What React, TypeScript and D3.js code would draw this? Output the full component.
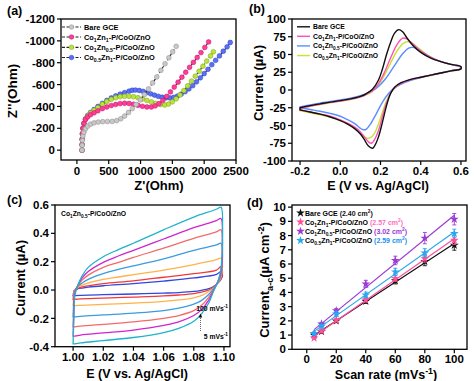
import React from "react";
import * as d3 from "d3";

const FONT = "'Liberation Sans', Arial, Helvetica, sans-serif";

// ---------------- Panel (a) : Nyquist plots  [Z', -Z''] ----------------
const eisLabels = ["Bare GCE", "Co_{1}Zn_{1}-P/CoO/ZnO", "Co_{1}Zn_{0.5}-P/CoO/ZnO", "Co_{0.5}Zn_{1}-P/CoO/ZnO"];
const eisFill = ["#c8c8c8", "#ff3d97", "#b9e43c", "#5b70f4"];
const eisEdge = ["#8a8a8a", "#c3126a", "#7d9e18", "#2b3fc0"];
const eisXTicks = [0, 500, 1000, 1500, 2000, 2500];
const eisYTicks = [0, 200, 400, 600, 800, 1000, 1200];
const eisBare = [[80,0],[82,45],[86,90],[95,130],[110,165],[135,195],[170,220],[215,238],[270,250],[335,257],[405,261],[480,262],[555,263],[625,270],[690,287],[750,312],[810,345],[870,380],[930,418],[995,460],[1060,508],[1125,560],[1190,615],[1255,670],[1320,730],[1385,790],[1445,845],[1505,900],[1560,950]];
const eisCo1Zn1 = [[80,0],[81,50],[83,100],[87,150],[95,200],[110,245],[135,280],[170,305],[215,325],[270,342],[330,360],[400,380],[470,395],[540,408],[610,418],[680,426],[750,429],[820,427],[890,420],[960,410],[1030,401],[1100,395],[1170,395],[1230,405],[1290,425],[1350,455],[1410,492],[1470,533],[1530,577],[1590,622],[1650,668],[1710,713],[1770,758],[1830,803],[1890,848],[1950,893],[2010,940],[2070,990]];
const eisCo1Zn05 = [[80,0],[81,50],[83,100],[87,150],[95,200],[110,245],[135,285],[170,315],[215,340],[270,365],[330,390],[400,420],[470,445],[540,465],[610,480],[680,489],[750,493],[820,493],[890,489],[960,480],[1030,468],[1100,455],[1170,442],[1240,428],[1310,417],[1380,413],[1440,422],[1500,442],[1560,470],[1620,505],[1680,545],[1740,588],[1800,632],[1860,677],[1920,722],[1980,768],[2040,815],[2100,862],[2145,900]];
const eisCo05Zn1 = [[80,0],[81,50],[83,100],[87,150],[95,200],[110,245],[135,285],[170,318],[215,345],[270,372],[330,400],[400,428],[470,455],[540,478],[610,497],[680,513],[750,527],[820,540],[870,548],[920,550],[980,546],[1040,538],[1100,527],[1160,515],[1220,503],[1280,492],[1340,484],[1400,479],[1460,478],[1520,483],[1580,495],[1640,513],[1700,535],[1760,560],[1820,590],[1880,625],[1940,662],[2000,700],[2060,740],[2120,782],[2180,822],[2240,862],[2300,905],[2360,945],[2410,985]];

// ---------------- Panel (b) : CV in redox probe [E, I] ----------------
const cvLabels = ["Bare GCE", "Co_{1}Zn_{1}-P/CoO/ZnO", "Co_{1}Zn_{0.5}-P/CoO/ZnO", "Co_{0.5}Zn_{1}-P/CoO/ZnO"];
const cvColors = ["#111111", "#ff4fb8", "#5b8cff", "#c6e234"];
const cvXTicks = [-0.2, 0, 0.2, 0.4, 0.6];
const cvYTicks = [-100, -75, -50, -25, 0, 25, 50, 75, 100];
const cvBareFwd = [[-0.2,-25],[-0.15,-22],[-0.1,-19.5],[-0.05,-17],[0,-15],[0.05,-12.5],[0.1,-9],[0.13,-5],[0.16,1],[0.19,14],[0.21,30],[0.23,50],[0.25,67],[0.27,80],[0.29,85],[0.31,82],[0.33,74],[0.36,63],[0.4,53],[0.45,45],[0.5,40],[0.55,36],[0.6,33]];
const cvBareRev = [[0.6,30],[0.55,27],[0.5,24],[0.45,21],[0.4,18],[0.35,15],[0.3,10],[0.27,4],[0.25,-5],[0.23,-22],[0.21,-45],[0.19,-66],[0.17,-79],[0.16,-82],[0.14,-79],[0.12,-70],[0.1,-62],[0.07,-54],[0.03,-47],[0,-43],[-0.05,-38],[-0.1,-34],[-0.15,-31],[-0.2,-28]];
const cvPinkFwd = [[-0.2,-26],[-0.15,-22.5],[-0.1,-20],[-0.05,-17.5],[0,-15.5],[0.05,-13],[0.1,-9.5],[0.13,-6],[0.16,-1],[0.19,9],[0.22,25],[0.25,45],[0.28,63],[0.31,73],[0.33,72],[0.36,65],[0.4,55],[0.45,46],[0.5,40],[0.55,36],[0.6,33]];
const cvPinkRev = [[0.6,30],[0.55,27],[0.5,24],[0.45,21],[0.4,18],[0.35,14.5],[0.3,9],[0.27,3],[0.25,-5],[0.23,-18],[0.21,-37],[0.19,-57],[0.17,-70],[0.155,-75],[0.14,-73],[0.12,-66],[0.1,-59],[0.07,-52],[0.03,-46],[0,-42],[-0.05,-37],[-0.1,-34],[-0.15,-31],[-0.2,-28]];
const cvBlueFwd = [[-0.2,-24],[-0.15,-21],[-0.1,-18.5],[-0.05,-16],[0,-14],[0.05,-11.5],[0.1,-8],[0.13,-5],[0.16,-1],[0.19,5],[0.22,14],[0.25,26],[0.28,39],[0.31,51],[0.34,59],[0.36,60],[0.38,58],[0.41,53],[0.45,46],[0.5,40],[0.55,36],[0.6,32]];
const cvBlueRev = [[0.6,30],[0.55,27],[0.5,24],[0.45,21],[0.4,17.5],[0.35,13.5],[0.3,8],[0.27,3],[0.24,-5],[0.21,-17],[0.18,-33],[0.15,-48],[0.13,-55],[0.115,-56],[0.1,-54],[0.07,-47],[0.03,-41],[0,-37],[-0.05,-33],[-0.1,-30],[-0.15,-27.5],[-0.2,-25]];
const cvYelFwd = [[-0.2,-27],[-0.15,-23],[-0.1,-20.5],[-0.05,-18],[0,-16],[0.05,-13.5],[0.1,-10],[0.13,-6.5],[0.16,-2],[0.19,7],[0.22,21],[0.25,38],[0.28,54],[0.31,65],[0.33,68],[0.35,67],[0.38,61],[0.42,52],[0.46,45],[0.5,40],[0.55,36],[0.6,32]];
const cvYelRev = [[0.6,29],[0.55,26.5],[0.5,23.5],[0.45,20.5],[0.4,17.5],[0.35,14],[0.3,8.5],[0.27,2.5],[0.25,-4],[0.23,-15],[0.21,-31],[0.19,-48],[0.17,-61],[0.15,-67],[0.135,-68],[0.12,-66],[0.1,-61],[0.07,-54],[0.03,-47],[0,-43],[-0.05,-38],[-0.1,-35],[-0.15,-32],[-0.2,-29]];

// ---------------- Panel (c) : CV at scan rates [E, I] ----------------
const ratesC = [5, 10, 20, 40, 60, 80, 100];
const rateColors = ["#3346e0", "#f03a3a", "#ffb24a", "#3a9be0", "#f26b6b", "#cf25cf", "#1fb3cc"];
const cvcXTicks = [1.0, 1.02, 1.04, 1.06, 1.08, 1.1];
const cvcYTicks = [-0.4, -0.2, 0, 0.2, 0.4, 0.6];
const cv5Up = [[1.0,-0.04],[1.0005,-0.01],[1.001,0.0],[1.003,0.008],[1.006,0.014],[1.01,0.02],[1.02,0.03],[1.04,0.045],[1.06,0.063],[1.08,0.085],[1.095,0.11],[1.098,0.13]];
const cv5Dn = [[1.099,0.1],[1.098,0.075],[1.096,0.05],[1.093,0.025],[1.09,0.01],[1.085,-0.002],[1.08,-0.01],[1.07,-0.018],[1.06,-0.022],[1.04,-0.028],[1.02,-0.033],[1.005,-0.038],[1.001,-0.04]];
const cv10Up = [[1.0,-0.065],[1.0005,-0.02],[1.001,0.0],[1.003,0.012],[1.006,0.022],[1.01,0.03],[1.02,0.045],[1.04,0.065],[1.06,0.09],[1.08,0.115],[1.095,0.14],[1.098,0.165]];
const cv10Dn = [[1.099,0.12],[1.098,0.08],[1.096,0.05],[1.093,0.02],[1.09,0.0],[1.085,-0.015],[1.08,-0.025],[1.07,-0.035],[1.06,-0.042],[1.04,-0.05],[1.02,-0.057],[1.005,-0.062],[1.001,-0.065]];
const cv20Up = [[1.0,-0.11],[1.0005,-0.04],[1.001,0.0],[1.003,0.02],[1.006,0.035],[1.01,0.05],[1.02,0.075],[1.03,0.092],[1.04,0.108],[1.06,0.14],[1.08,0.18],[1.095,0.215],[1.098,0.225]];
const cv20Dn = [[1.099,0.16],[1.098,0.09],[1.096,0.05],[1.093,0.015],[1.09,-0.01],[1.085,-0.04],[1.08,-0.055],[1.07,-0.07],[1.06,-0.08],[1.04,-0.093],[1.02,-0.102],[1.005,-0.108],[1.001,-0.11]];
const cv40Up = [[1.0,-0.19],[1.0005,-0.07],[1.001,-0.01],[1.003,0.025],[1.006,0.05],[1.01,0.075],[1.02,0.115],[1.03,0.145],[1.04,0.17],[1.06,0.22],[1.08,0.28],[1.095,0.318],[1.098,0.33]];
const cv40Dn = [[1.099,0.22],[1.098,0.1],[1.096,0.055],[1.093,0.01],[1.09,-0.03],[1.085,-0.075],[1.08,-0.1],[1.07,-0.128],[1.06,-0.145],[1.04,-0.163],[1.02,-0.176],[1.005,-0.186],[1.001,-0.19]];
const cv60Up = [[1.0,-0.26],[1.0005,-0.1],[1.001,-0.02],[1.003,0.03],[1.006,0.07],[1.01,0.105],[1.02,0.16],[1.03,0.195],[1.04,0.23],[1.06,0.295],[1.08,0.365],[1.095,0.41],[1.098,0.425]];
const cv60Dn = [[1.099,0.3],[1.098,0.11],[1.096,0.06],[1.093,0.0],[1.09,-0.05],[1.085,-0.11],[1.08,-0.145],[1.07,-0.18],[1.06,-0.2],[1.04,-0.225],[1.02,-0.242],[1.005,-0.255],[1.001,-0.26]];
const cv80Up = [[1.0,-0.325],[1.0005,-0.15],[1.001,-0.03],[1.003,0.03],[1.006,0.085],[1.01,0.13],[1.02,0.195],[1.03,0.24],[1.04,0.28],[1.06,0.36],[1.08,0.44],[1.095,0.49],[1.098,0.505]];
const cv80Dn = [[1.099,0.35],[1.098,0.13],[1.096,0.06],[1.093,-0.005],[1.09,-0.07],[1.085,-0.14],[1.08,-0.18],[1.07,-0.225],[1.06,-0.25],[1.04,-0.283],[1.02,-0.303],[1.005,-0.318],[1.001,-0.325]];
const cv100Up = [[1.0,-0.38],[1.0005,-0.2],[1.001,-0.05],[1.003,0.03],[1.006,0.1],[1.01,0.16],[1.02,0.235],[1.03,0.285],[1.04,0.33],[1.06,0.425],[1.08,0.515],[1.095,0.57],[1.098,0.585]];
const cv100Dn = [[1.099,0.4],[1.098,0.15],[1.096,0.06],[1.093,-0.01],[1.09,-0.09],[1.085,-0.17],[1.08,-0.22],[1.07,-0.27],[1.06,-0.3],[1.04,-0.335],[1.02,-0.357],[1.005,-0.373],[1.001,-0.38]];

// ---------------- Panel (d) : ECSA ----------------
const scanRates = [5, 10, 20, 40, 60, 80, 100];
const ecsaLabels = ["Bare GCE", "Co_{1}Zn_{1}-P/CoO/ZnO", "Co_{1}Zn_{0.5}-P/CoO/ZnO", "Co_{0.5}Zn_{1}-P/CoO/ZnO"];
const ecsaValues = ["(2.40 cm^{2})", "(2.57 cm^{2})", "(3.02 cm^{2})", "(2.59 cm^{2})"];
const ecsaColors = ["#111111", "#ff4f9a", "#9a3ad6", "#2aa7ef"];
const ecsaValueColors = ["#111111", "#ff6ec0", "#9a3ad6", "#1a8ff0"];
const ecsaXTicks = [0, 20, 40, 60, 80, 100];
const ecsaYTicks = [0, 1, 2, 3, 4, 5, 6, 7, 8, 9, 10];
const ecsaBare = [1.0, 1.25, 2.0, 3.38, 4.82, 6.18, 7.32];
const ecsaBareErr = [0.1, 0.1, 0.12, 0.15, 0.22, 0.3, 0.35];
const ecsaCo1Zn1 = [0.8, 1.28, 2.05, 3.47, 4.98, 6.38, 7.68];
const ecsaCo1Zn1Err = [0.1, 0.1, 0.12, 0.15, 0.2, 0.25, 0.3];
const ecsaCo1Zn05 = [1.1, 1.78, 2.72, 4.6, 6.25, 7.82, 9.15];
const ecsaCo1Zn05Err = [0.1, 0.1, 0.15, 0.25, 0.3, 0.4, 0.4];
const ecsaCo05Zn1 = [1.12, 1.62, 2.48, 3.82, 5.45, 6.78, 8.15];
const ecsaCo05Zn1Err = [0.1, 0.1, 0.15, 0.2, 0.25, 0.3, 0.3];

type Seg = { text: string; fill?: string };

function Rich({ segs, x, y, size, anchor = "start", transform }: { segs: Seg[]; x?: number; y?: number; size: number; anchor?: string; transform?: string }) {
  let shift = 0;
  const kids: any[] = [];
  segs.forEach((s, si) => {
    const parts = s.text.split(/(_\{[^}]*\}|\^\{[^}]*\})/).filter((p) => p.length > 0);
    parts.forEach((p, i) => {
      let target = 0;
      let content = p;
      let fs: number | undefined;
      if (p.startsWith("_{")) { target = size * 0.3; content = p.slice(2, -1); fs = size * 0.7; }
      else if (p.startsWith("^{")) { target = -size * 0.4; content = p.slice(2, -1); fs = size * 0.7; }
      const d = target - shift;
      shift = target;
      kids.push(<tspan key={si + "-" + i} dy={d} fontSize={fs} fill={s.fill}>{content}</tspan>);
    });
  });
  return (
    <text x={x} y={y} fontSize={size} fontWeight="bold" fontFamily={FONT} textAnchor={anchor as any} transform={transform}>
      {kids}
    </text>
  );
}

function Axes({ x, y, xTicks, yTicks, xFmt, yFmt, xOff = 15, fs = 11.5 }: any) {
  const [x0, x1] = x.range();
  const [y0, y1] = y.range();
  return (
    <g fontFamily={FONT} fontWeight="bold" fontSize={fs}>
      <rect x={x0} y={y1} width={x1 - x0} height={y0 - y1} fill="none" stroke="#000" strokeWidth={1.3} />
      {xTicks.map((t: number) => (
        <g key={"x" + t}>
          <line x1={x(t)} x2={x(t)} y1={y0} y2={y0 + 4} stroke="#000" strokeWidth={1.2} />
          <text x={x(t)} y={y0 + xOff} textAnchor="middle">{xFmt(t)}</text>
        </g>
      ))}
      {yTicks.map((t: number) => (
        <g key={"y" + t}>
          <line x1={x0 - 4} x2={x0} y1={y(t)} y2={y(t)} stroke="#000" strokeWidth={1.2} />
          <text x={x0 - 6} y={y(t)} dy="0.36em" textAnchor="end">{yFmt(t)}</text>
        </g>
      ))}
    </g>
  );
}

export default function App() {
  // ----- (a)
  const xA = d3.scaleLinear().domain([-250, 2500]).range([61, 236]);
  const yA = d3.scaleLinear().domain([-90, 1200]).range([160, 19]);
  const lineA = d3.line<number[]>().x((d) => xA(d[0])).y((d) => yA(d[1]));
  const eisSeries = [eisBare, eisCo1Zn1, eisCo1Zn05, eisCo05Zn1];
  const drawOrderA = [3, 2, 1, 0];
  const legA = [27, 37, 47.3, 57.5];

  // ----- (b)
  const xB = d3.scaleLinear().domain([-0.24, 0.625]).range([292, 466]);
  const yB = d3.scaleLinear().domain([-100, 100]).range([161, 19]);
  const lineB = d3.line<number[]>().x((d) => xB(d[0])).y((d) => yB(d[1])).curve(d3.curveCatmullRom.alpha(0.5));
  const cvLoops = [cvBareFwd.concat(cvBareRev), cvPinkFwd.concat(cvPinkRev), cvBlueFwd.concat(cvBlueRev), cvYelFwd.concat(cvYelRev)];
  const drawOrderB = [3, 2, 1, 0];
  const legB = [26.8, 36.3, 45.9, 55.6];

  // ----- (c)
  const xC = d3.scaleLinear().domain([0.988, 1.104]).range([55, 230]);
  const yC = d3.scaleLinear().domain([-0.4, 0.6]).range([346.7, 205]);
  const lineC = d3.line<number[]>().x((d) => xC(d[0])).y((d) => yC(d[1])).curve(d3.curveCatmullRom.alpha(0.5));
  const cvRateLoops = [cv5Up.concat(cv5Dn), cv10Up.concat(cv10Dn), cv20Up.concat(cv20Dn), cv40Up.concat(cv40Dn), cv60Up.concat(cv60Dn), cv80Up.concat(cv80Dn), cv100Up.concat(cv100Dn)];

  // ----- (d)
  const xD = d3.scaleLinear().domain([-10, 108.6]).range([292, 467]);
  const yD = d3.scaleLinear().domain([0, 10.15]).range([349.3, 205]);
  const ecsaSeries = [ecsaBare, ecsaCo1Zn1, ecsaCo1Zn05, ecsaCo05Zn1];
  const ecsaErrs = [ecsaBareErr, ecsaCo1Zn1Err, ecsaCo1Zn05Err, ecsaCo05Zn1Err];
  const star = d3.symbol().type(d3.symbolStar).size(24);
  const fits = ecsaSeries.map((vals) => {
    const mx = d3.mean(scanRates) as number;
    const my = d3.mean(vals) as number;
    let num = 0, den = 0;
    scanRates.forEach((r, i) => { num += (r - mx) * (vals[i] - my); den += (r - mx) * (r - mx); });
    const k = num / den;
    const b = my - k * mx;
    const xs = [scanRates[0], scanRates[scanRates.length - 1]];
    return xs.map((r) => [r, k * r + b]);
  });
  const lineD = d3.line<number[]>().x((d) => xD(d[0])).y((d) => yD(d[1]));
  const legD = [213, 222, 231.3, 240.5];

  const fmt1 = (t: number) => t.toFixed(1);

  return (
    <svg width={474} height={381} style={{ position: "absolute", left: 0, top: 0, background: "#fff" }}>
      <rect width={474} height={381} fill="#fff" />

      {/* ================= (a) ================= */}
      <g>
        <defs>
          <clipPath id="clipA"><rect x={61} y={19} width={175} height={141} /></clipPath>
        </defs>
        <g clipPath="url(#clipA)">
          {drawOrderA.map((si) => (
            <g key={"a" + si}>
              <path d={lineA(eisSeries[si] as any) as string} fill="none" stroke="#222" strokeWidth={1.1} strokeDasharray="3,2" />
              {eisSeries[si].map((p, i) => (
                <circle key={i} cx={xA(p[0])} cy={yA(p[1])} r={2.4} fill={eisFill[si]} stroke={eisEdge[si]} strokeWidth={0.5} />
              ))}
            </g>
          ))}
        </g>
        <Axes x={xA} y={yA} xTicks={eisXTicks} yTicks={eisYTicks} xFmt={(t: number) => String(t)} yFmt={(t: number) => (t === 0 ? "0" : "-" + t)} xOff={15} />
        {eisLabels.map((lab, i) => (
          <g key={"la" + i}>
            <line x1={62} x2={81} y1={legA[i]} y2={legA[i]} stroke="#222" strokeWidth={1.2} strokeDasharray="3,1.5" />
            <circle cx={71.5} cy={legA[i]} r={2.3} fill={eisFill[i]} stroke={eisEdge[i]} strokeWidth={0.5} />
            <Rich segs={[{ text: lab }]} x={84} y={legA[i] + 2.6} size={7.4} />
          </g>
        ))}
        <Rich segs={[{ text: "Z'(Ohm)" }]} x={159} y={190} size={13} anchor="middle" />
        <Rich segs={[{ text: "Z''(Ohm)" }]} size={13.5} anchor="middle" transform="translate(17,91) rotate(-90)" />
        <Rich segs={[{ text: "(a)" }]} x={7} y={15} size={12.5} />
      </g>

      {/* ================= (b) ================= */}
      <g>
        {drawOrderB.map((si) => (
          <path key={"b" + si} d={(lineB(cvLoops[si] as any) as string) + "Z"} fill="none" stroke={cvColors[si]} strokeWidth={1.4} />
        ))}
        <Axes x={xB} y={yB} xTicks={cvXTicks} yTicks={cvYTicks} xFmt={fmt1} yFmt={(t: number) => String(t)} xOff={14} />
        {cvLabels.map((lab, i) => (
          <g key={"lb" + i}>
            <line x1={297} x2={310} y1={legB[i]} y2={legB[i]} stroke={cvColors[i]} strokeWidth={1.4} />
            <Rich segs={[{ text: lab }]} x={313} y={legB[i] + 2.4} size={6.8} />
          </g>
        ))}
        <Rich segs={[{ text: "E (V vs. Ag/AgCl)" }]} x={378} y={190} size={12.5} anchor="middle" />
        <Rich segs={[{ text: "Current (µA)" }]} size={13} anchor="middle" transform="translate(263,83) rotate(-90)" />
        <Rich segs={[{ text: "(b)" }]} x={249} y={13} size={12.5} />
      </g>

      {/* ================= (c) ================= */}
      <g>
        {cvRateLoops.map((loop, i) => (
          <path key={"c" + i} d={(lineC(loop as any) as string) + "Z"} fill="none" stroke={rateColors[i]} strokeWidth={1.3} />
        ))}
        <Axes x={xC} y={yC} xTicks={cvcXTicks} yTicks={cvcYTicks} xFmt={(t: number) => t.toFixed(2)} yFmt={fmt1} xOff={14} />
        <Rich segs={[{ text: "Co_{1}Zn_{0.5}-P/CoO/ZnO" }]} x={61} y={216} size={6.8} />
        <Rich segs={[{ text: "100 mVs^{-1}" }]} x={228} y={311} size={6.8} anchor="end" />
        <Rich segs={[{ text: "5 mVs^{-1}" }]} x={228} y={339} size={6.8} anchor="end" />
        <line x1={200.5} x2={200.5} y1={331} y2={315} stroke="#000" strokeWidth={0.6} strokeDasharray="1,1" />
        <path d="M198.8,317.5 L200.5,313.5 L202.2,317.5 Z" fill="#000" />
        <Rich segs={[{ text: "E (V vs. Ag/AgCl)" }]} x={137} y={378} size={12.5} anchor="middle" />
        <Rich segs={[{ text: "Current (µA)" }]} size={13} anchor="middle" transform="translate(25,278) rotate(-90)" />
        <Rich segs={[{ text: "(c)" }]} x={7} y={204} size={12.5} />
      </g>

      {/* ================= (d) ================= */}
      <g>
        {ecsaSeries.map((vals, si) => (
          <g key={"d" + si}>
            <path d={lineD(fits[si] as any) as string} fill="none" stroke={ecsaColors[si]} strokeWidth={1.2} />
            {vals.map((v, i) => {
              const e = ecsaErrs[si][i];
              const cx = xD(scanRates[i]);
              return (
                <g key={i}>
                  <line x1={cx} x2={cx} y1={yD(v - e)} y2={yD(v + e)} stroke={ecsaColors[si]} strokeWidth={0.9} />
                  <line x1={cx - 2} x2={cx + 2} y1={yD(v - e)} y2={yD(v - e)} stroke={ecsaColors[si]} strokeWidth={0.9} />
                  <line x1={cx - 2} x2={cx + 2} y1={yD(v + e)} y2={yD(v + e)} stroke={ecsaColors[si]} strokeWidth={0.9} />
                  <path d={star() as string} transform={`translate(${cx},${yD(v)})`} fill={ecsaColors[si]} />
                </g>
              );
            })}
          </g>
        ))}
        <Axes x={xD} y={yD} xTicks={ecsaXTicks} yTicks={ecsaYTicks} xFmt={(t: number) => String(t)} yFmt={(t: number) => String(t)} xOff={14} />
        {ecsaLabels.map((lab, i) => (
          <g key={"ld" + i}>
            <path d={star() as string} transform={`translate(300.5,${legD[i]})`} fill={ecsaColors[i]} />
            <Rich segs={[{ text: lab + " " }, { text: ecsaValues[i], fill: ecsaValueColors[i] }]} x={305} y={legD[i] + 2.5} size={7} />
          </g>
        ))}
        <Rich segs={[{ text: "Scan rate (mVs^{-1})" }]} x={386} y={378.5} size={12.5} anchor="middle" />
        <Rich segs={[{ text: "Current_{a-c}(µA cm^{-2})" }]} size={13} anchor="middle" transform="translate(269,280) rotate(-90)" />
        <Rich segs={[{ text: "(d)" }]} x={247} y={207} size={12.5} />
      </g>
    </svg>
  );
}
